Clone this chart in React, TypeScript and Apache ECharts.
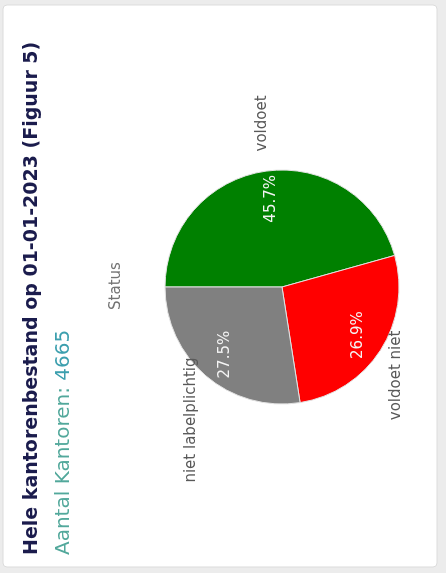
import React, { useEffect, useRef } from "react";
import * as echarts from "echarts";

// ---- data ----
const categories = ["voldoet", "voldoet niet", "niet labelplichtig"];
const percentages = [45.7, 26.9, 27.5];
const sliceColors = ["#008000", "#ff0000", "#808080"];
const totalKantoren = 4665;
const titleText = "Hele kantorenbestand op 01-01-2023 (Figuur 5)";
const subtitleLabel = "Aantal Kantoren: ";
const dimensionTitle = "Status";

// small label nudges (px) for the category labels, by slice index
const nameLabelNudges = [
  [7, 1],
  [-3, -20],
  [-13, 11],
];

const FONT = "DejaVu Sans";
const W = 573;
const H = 446;

export default function App() {
  const ref = useRef<HTMLDivElement>(null);

  useEffect(() => {
    if (!ref.current) return;
    const chart = echarts.init(ref.current, null, {
      renderer: "svg",
      width: W,
      height: H,
    });

    const data = categories.map((name, i) => ({
      name,
      value: percentages[i],
      itemStyle: { color: sliceColors[i] },
    }));
    const ghost = categories.map((name, i) => ({
      name,
      value: percentages[i],
    }));

    const center = [286, 282];

    chart.setOption({
      animation: false,
      backgroundColor: "#ececec",
      graphic: [
        {
          type: "rect",
          z: -10,
          shape: { x: 6, y: 3, width: 562, height: 434, r: 4 },
          style: { fill: "#ffffff", stroke: "#dcdcdc", lineWidth: 1 },
          silent: true,
        },
      ],
      title: [
        {
          text: titleText,
          left: 18,
          top: 20,
          padding: 0,
          textStyle: {
            fontFamily: FONT,
            fontSize: 19,
            fontWeight: "bold",
            color: "#1b1c4d",
          },
        },
        {
          text: `{a|${subtitleLabel}}{b|${totalKantoren}}`,
          left: 18,
          top: 52,
          padding: 0,
          textStyle: {
            fontWeight: "normal",
            rich: {
              a: { fontFamily: FONT, fontSize: 20, fontWeight: "normal", color: "#52a89b" },
              b: { fontFamily: FONT, fontSize: 20, fontWeight: "normal", color: "#3c9fae" },
            },
          },
        },
        {
          text: dimensionTitle,
          left: 287,
          textAlign: "center",
          top: 107,
          padding: 0,
          textStyle: {
            fontFamily: FONT,
            fontSize: 15,
            fontWeight: "normal",
            color: "#737373",
          },
        },
      ],
      series: [
        {
          type: "pie",
          center,
          radius: 117,
          startAngle: 90,
          clockwise: true,
          silent: true,
          label: { show: false },
          labelLine: { show: false },
          itemStyle: { borderColor: "#e2e2e2", borderWidth: 1 },
          emphasis: { disabled: true },
          data,
        },
        {
          type: "pie",
          center,
          radius: [55, 117],
          startAngle: 90,
          clockwise: true,
          silent: true,
          itemStyle: { color: "rgba(0,0,0,0)", borderWidth: 0 },
          labelLine: { show: false },
          label: {
            show: true,
            position: "inside",
            fontFamily: FONT,
            fontSize: 15,
            color: "#f4f4f4",
            formatter: (p: any) => `${Number(p.value).toFixed(1)}%`,
          },
          emphasis: { disabled: true },
          data: ghost,
        },
        {
          type: "pie",
          center,
          radius: [40, 270],
          startAngle: 90,
          clockwise: true,
          silent: true,
          itemStyle: { color: "rgba(0,0,0,0)", borderWidth: 0 },
          labelLine: { show: false },
          label: {
            show: true,
            position: "inside",
            fontFamily: FONT,
            fontSize: 15,
            color: "#595959",
            formatter: "{b}",
          },
          labelLayout: (p: any) => {
            const n = nameLabelNudges[p.dataIndex] || [0, 0];
            return { dx: n[0], dy: n[1] };
          },
          emphasis: { disabled: true },
          data: ghost,
        },
      ],
    });

    return () => chart.dispose();
  }, []);

  return (
    <div
      style={{
        position: "fixed",
        left: 0,
        top: 0,
        width: W,
        height: H,
        transformOrigin: "0 0",
        transform: `translate(0px, ${W}px) rotate(-90deg)`,
        background: "#ececec",
      }}
    >
      <div ref={ref} style={{ width: W, height: H }} />
    </div>
  );
}
